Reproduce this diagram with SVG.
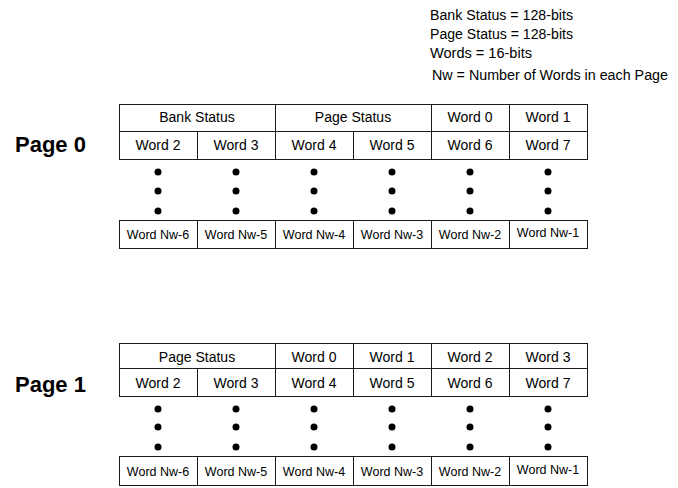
<svg xmlns="http://www.w3.org/2000/svg" width="678" height="488" viewBox="0 0 678 488">
<style>
.c{fill:#fff;stroke:#1a1a1a;stroke-width:1}
.t{font-family:"Liberation Sans",Arial,sans-serif;font-size:14px;fill:#000;text-anchor:middle}
.s{font-family:"Liberation Sans",Arial,sans-serif;font-size:12.5px;fill:#000;text-anchor:middle}
.l{font-family:"Liberation Sans",Arial,sans-serif;font-size:14px;fill:#000}
.p{font-family:"Liberation Sans",Arial,sans-serif;font-size:22px;font-weight:bold;fill:#000}
.d{fill:#000}
</style>
<g id="legend">
<text class="l" x="430" y="20" textLength="143" lengthAdjust="spacingAndGlyphs">Bank Status = 128-bits</text>
<text class="l" x="430" y="39" textLength="143" lengthAdjust="spacingAndGlyphs">Page Status = 128-bits</text>
<text class="l" x="430" y="58" textLength="102" lengthAdjust="spacingAndGlyphs">Words = 16-bits</text>
<text class="l" x="432" y="80" textLength="236" lengthAdjust="spacingAndGlyphs">Nw = Number of Words in each Page</text>
</g>
<g id="page0-label"><text class="p" x="15" y="152">Page 0</text></g>
<g id="page1-label"><text class="p" x="15" y="392">Page 1</text></g>

<g id="page0">
<g id="p0-bank"><rect class="c" x="119.5" y="104.5" width="156" height="27"/><text class="t" x="197" y="122">Bank Status</text></g>
<g id="p0-pstat"><rect class="c" x="275.5" y="104.5" width="156" height="27"/><text class="t" x="353" y="122">Page Status</text></g>
<g id="p0-w0"><rect class="c" x="431.5" y="104.5" width="78" height="27"/><text class="t" x="470" y="122">Word 0</text></g>
<g id="p0-w1"><rect class="c" x="509.5" y="104.5" width="78" height="27"/><text class="t" x="548" y="122">Word 1</text></g>
<g id="p0-w2"><rect class="c" x="119.5" y="131.5" width="78" height="28"/><text class="t" x="158" y="150">Word 2</text></g>
<g id="p0-w3"><rect class="c" x="197.5" y="131.5" width="78" height="28"/><text class="t" x="236" y="150">Word 3</text></g>
<g id="p0-w4"><rect class="c" x="275.5" y="131.5" width="78" height="28"/><text class="t" x="314" y="150">Word 4</text></g>
<g id="p0-w5"><rect class="c" x="353.5" y="131.5" width="78" height="28"/><text class="t" x="392" y="150">Word 5</text></g>
<g id="p0-w6"><rect class="c" x="431.5" y="131.5" width="78" height="28"/><text class="t" x="470" y="150">Word 6</text></g>
<g id="p0-w7"><rect class="c" x="509.5" y="131.5" width="78" height="28"/><text class="t" x="548" y="150">Word 7</text></g>
<g id="p0-dots">
<circle class="d" cx="158" cy="172" r="3.5"/><circle class="d" cx="158" cy="191" r="3.5"/><circle class="d" cx="158" cy="211" r="3.5"/>
<circle class="d" cx="236" cy="172" r="3.5"/><circle class="d" cx="236" cy="191" r="3.5"/><circle class="d" cx="236" cy="211" r="3.5"/>
<circle class="d" cx="314" cy="172" r="3.5"/><circle class="d" cx="314" cy="191" r="3.5"/><circle class="d" cx="314" cy="211" r="3.5"/>
<circle class="d" cx="392" cy="172" r="3.5"/><circle class="d" cx="392" cy="191" r="3.5"/><circle class="d" cx="392" cy="211" r="3.5"/>
<circle class="d" cx="470" cy="172" r="3.5"/><circle class="d" cx="470" cy="191" r="3.5"/><circle class="d" cx="470" cy="211" r="3.5"/>
<circle class="d" cx="548" cy="172" r="3.5"/><circle class="d" cx="548" cy="191" r="3.5"/><circle class="d" cx="548" cy="211" r="3.5"/>
</g>
<g id="p0-nw6"><rect class="c" x="119.5" y="220.5" width="78" height="28"/><text class="s" x="158" y="239">Word Nw-6</text></g>
<g id="p0-nw5"><rect class="c" x="197.5" y="220.5" width="78" height="28"/><text class="s" x="236" y="239">Word Nw-5</text></g>
<g id="p0-nw4"><rect class="c" x="275.5" y="220.5" width="78" height="28"/><text class="s" x="314" y="239">Word Nw-4</text></g>
<g id="p0-nw3"><rect class="c" x="353.5" y="220.5" width="78" height="28"/><text class="s" x="392" y="239">Word Nw-3</text></g>
<g id="p0-nw2"><rect class="c" x="431.5" y="220.5" width="78" height="28"/><text class="s" x="470" y="239">Word Nw-2</text></g>
<g id="p0-nw1"><rect class="c" x="509.5" y="220.5" width="78" height="28"/><text class="s" x="548" y="237">Word Nw-1</text></g>
</g>

<g id="page1">
<g id="p1-pstat"><rect class="c" x="119.5" y="343.5" width="156" height="25"/><text class="t" x="197" y="362">Page Status</text></g>
<g id="p1-w0"><rect class="c" x="275.5" y="343.5" width="78" height="25"/><text class="t" x="314" y="362">Word 0</text></g>
<g id="p1-w1"><rect class="c" x="353.5" y="343.5" width="78" height="25"/><text class="t" x="392" y="362">Word 1</text></g>
<g id="p1-w2a"><rect class="c" x="431.5" y="343.5" width="78" height="25"/><text class="t" x="470" y="362">Word 2</text></g>
<g id="p1-w3a"><rect class="c" x="509.5" y="343.5" width="78" height="25"/><text class="t" x="548" y="362">Word 3</text></g>
<g id="p1-w2"><rect class="c" x="119.5" y="368.5" width="78" height="28"/><text class="t" x="158" y="388">Word 2</text></g>
<g id="p1-w3"><rect class="c" x="197.5" y="368.5" width="78" height="28"/><text class="t" x="236" y="388">Word 3</text></g>
<g id="p1-w4"><rect class="c" x="275.5" y="368.5" width="78" height="28"/><text class="t" x="314" y="388">Word 4</text></g>
<g id="p1-w5"><rect class="c" x="353.5" y="368.5" width="78" height="28"/><text class="t" x="392" y="388">Word 5</text></g>
<g id="p1-w6"><rect class="c" x="431.5" y="368.5" width="78" height="28"/><text class="t" x="470" y="388">Word 6</text></g>
<g id="p1-w7"><rect class="c" x="509.5" y="368.5" width="78" height="28"/><text class="t" x="548" y="388">Word 7</text></g>
<g id="p1-dots">
<circle class="d" cx="158" cy="409" r="3.5"/><circle class="d" cx="158" cy="427" r="3.5"/><circle class="d" cx="158" cy="447" r="3.5"/>
<circle class="d" cx="236" cy="409" r="3.5"/><circle class="d" cx="236" cy="427" r="3.5"/><circle class="d" cx="236" cy="447" r="3.5"/>
<circle class="d" cx="314" cy="409" r="3.5"/><circle class="d" cx="314" cy="427" r="3.5"/><circle class="d" cx="314" cy="447" r="3.5"/>
<circle class="d" cx="392" cy="409" r="3.5"/><circle class="d" cx="392" cy="427" r="3.5"/><circle class="d" cx="392" cy="447" r="3.5"/>
<circle class="d" cx="470" cy="409" r="3.5"/><circle class="d" cx="470" cy="427" r="3.5"/><circle class="d" cx="470" cy="447" r="3.5"/>
<circle class="d" cx="548" cy="409" r="3.5"/><circle class="d" cx="548" cy="427" r="3.5"/><circle class="d" cx="548" cy="447" r="3.5"/>
</g>
<g id="p1-nw6"><rect class="c" x="119.5" y="456.5" width="78" height="29"/><text class="s" x="158" y="476">Word Nw-6</text></g>
<g id="p1-nw5"><rect class="c" x="197.5" y="456.5" width="78" height="29"/><text class="s" x="236" y="476">Word Nw-5</text></g>
<g id="p1-nw4"><rect class="c" x="275.5" y="456.5" width="78" height="29"/><text class="s" x="314" y="476">Word Nw-4</text></g>
<g id="p1-nw3"><rect class="c" x="353.5" y="456.5" width="78" height="29"/><text class="s" x="392" y="476">Word Nw-3</text></g>
<g id="p1-nw2"><rect class="c" x="431.5" y="456.5" width="78" height="29"/><text class="s" x="470" y="476">Word Nw-2</text></g>
<g id="p1-nw1"><rect class="c" x="509.5" y="456.5" width="78" height="29"/><text class="s" x="548" y="474">Word Nw-1</text></g>
</g>
<g id="connectors"/>
</svg>
